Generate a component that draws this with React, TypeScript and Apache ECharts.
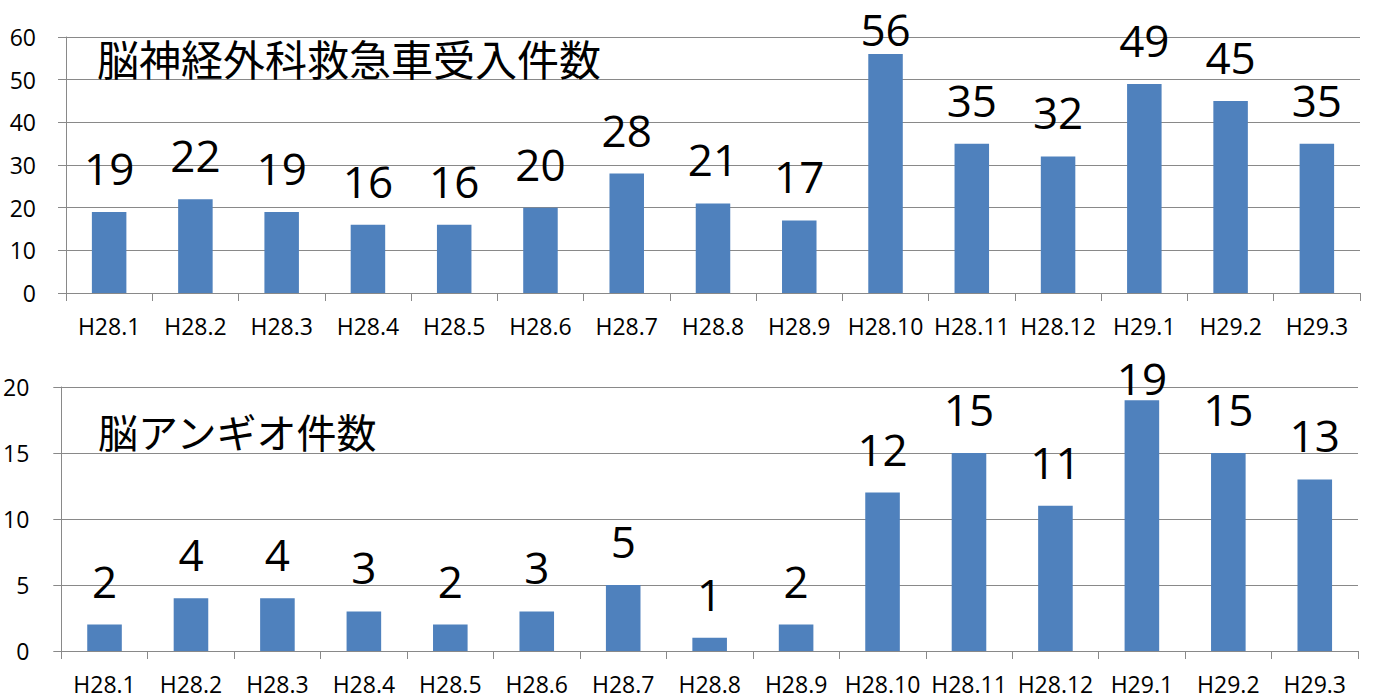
import React, { useEffect, useRef } from "react";
import * as echarts from "echarts";

const categories = [
  "H28.1", "H28.2", "H28.3", "H28.4", "H28.5", "H28.6", "H28.7", "H28.8",
  "H28.9", "H28.10", "H28.11", "H28.12", "H29.1", "H29.2", "H29.3",
];
const ambulanceCounts = [19, 22, 19, 16, 16, 20, 28, 21, 17, 56, 35, 32, 49, 45, 35];
const angioCounts = [2, 4, 4, 3, 2, 3, 5, 1, 2, 12, 15, 11, 19, 15, 13];
const ambulanceAxis = { min: 0, max: 60, interval: 10 };
const angioAxis = { min: 0, max: 20, interval: 5 };
const titles = ["脳神経外科救急車受入件数", "脳アンギオ件数"];

const W = 1373;
const H = 698;
const GRAY = "#898989";
const NUM_FONT = "'Open Sans', 'Liberation Sans', sans-serif";
const CJK_FONT = "'Noto Sans CJK JP', sans-serif";
const BAR = "#4F81BD";

const grids = [
  { left: 66, top: 37, width: 1294, height: 256, labelMargin: 30, labelLimit: 16 },
  { left: 58, top: 387, width: 1300, height: 264, labelMargin: 32, labelLimit: 365 },
];

const LABEL_DIST = 22;
const LABEL_ABOVE = 57; // px from bar top to glyph top in normal placement

function buildData(values: number[], max: number, g: typeof grids[0]) {
  return values.map((v) => {
    const barTop = g.top + (1 - v / max) * g.height;
    const glyphTop = barTop - LABEL_ABOVE;
    if (glyphTop < g.labelLimit) {
      return { value: v, label: { offset: [0, g.labelLimit - glyphTop] } };
    }
    return v;
  });
}

export default function App() {
  const ref = useRef<HTMLDivElement>(null);
  useEffect(() => {
    if (!ref.current) return;
    const chart = echarts.init(ref.current, undefined, { renderer: "svg" });
    const axesDefs = [ambulanceAxis, angioAxis];
    const seriesValues = [ambulanceCounts, angioCounts];
    const option: any = {
      animation: false,
      backgroundColor: "#ffffff",
      title: [
        {
          text: titles[0],
          left: 92,
          top: 31,
          textStyle: { fontFamily: CJK_FONT, fontSize: 42, fontWeight: "normal", color: "#000" },
        },
        {
          text: titles[1],
          left: 93,
          top: 406,
          textStyle: { fontFamily: CJK_FONT, fontSize: 40, fontWeight: "normal", color: "#000" },
        },
      ],
      grid: grids.map((g) => ({ left: g.left, top: g.top, width: g.width, height: g.height })),
      xAxis: grids.map((g, i) => ({
        type: "category",
        gridIndex: i,
        data: categories,
        axisLine: { show: true, lineStyle: { color: GRAY, width: 1 } },
        axisTick: { show: true, length: 8, lineStyle: { color: GRAY } },
        axisLabel: {
          interval: 0,
          margin: 21,
          fontFamily: NUM_FONT,
          fontSize: 23,
          color: "#000",
        },
      })),
      yAxis: grids.map((g, i) => ({
        type: "value",
        gridIndex: i,
        min: axesDefs[i].min,
        max: axesDefs[i].max,
        interval: axesDefs[i].interval,
        axisLine: { show: true, lineStyle: { color: GRAY, width: 1 } },
        axisTick: { show: true, length: 8, lineStyle: { color: GRAY } },
        splitLine: { show: true, lineStyle: { color: GRAY, width: 1 } },
        axisLabel: {
          margin: g.labelMargin,
          fontFamily: NUM_FONT,
          fontSize: 23,
          color: "#000",
        },
      })),
      series: grids.map((g, i) => ({
        type: "bar",
        xAxisIndex: i,
        yAxisIndex: i,
        barWidth: "40%",
        itemStyle: { color: BAR },
        data: buildData(seriesValues[i], axesDefs[i].max, g),
        label: {
          show: true,
          position: "top",
          distance: LABEL_DIST,
          fontFamily: NUM_FONT,
          fontSize: 44,
          lineHeight: 44,
          color: "#000",
        },
      })),
    };
    chart.setOption(option);
    return () => chart.dispose();
  }, []);
  return (
    <div
      ref={ref}
      style={{ position: "absolute", left: 0, top: 0, width: W, height: H }}
    />
  );
}
